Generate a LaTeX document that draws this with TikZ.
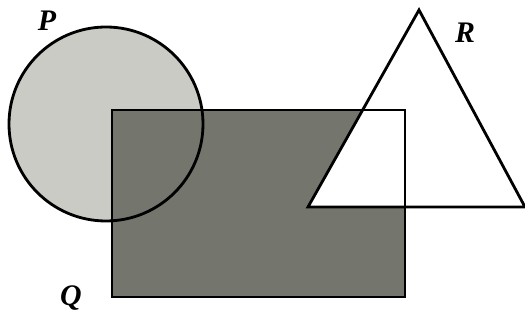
\documentclass[tikz,border=0pt]{standalone}
\usepackage{fontspec}
\setmainfont{Liberation Serif}
\usepackage{xcolor}
\definecolor{circlegray}{HTML}{C9CBC4}
\definecolor{rectgray}{HTML}{74766E}

\begin{document}
\begin{tikzpicture}[
  x=0.02cm, y=-0.02cm,
  outline/.style={draw=black, line width=1.6pt, line join=miter},
  setlabel/.style={font=\fontsize{17}{19}\selectfont\bfseries\itshape, inner sep=0pt}
]
\useasboundingbox (0,0) rectangle (525,320);

% fills first
\fill[circlegray] (106,124) circle (97);
\fill[rectgray] (112,110) rectangle (405,297);
\fill[white] (419,10) -- (308,207) -- (525,207) -- cycle;

% outlines on top
\draw[outline] (106,124) circle (97);
\draw[outline] (112,110) rectangle (405,297);
\draw[outline] (419,10) -- (308,207) -- (525,207) -- cycle;

% labels
\node[setlabel] (labelP) at (47,21) {P};
\node[setlabel] (labelR) at (465,33) {R};
\node[setlabel] (labelQ) at (71,298) {Q};
\end{tikzpicture}
\end{document}
